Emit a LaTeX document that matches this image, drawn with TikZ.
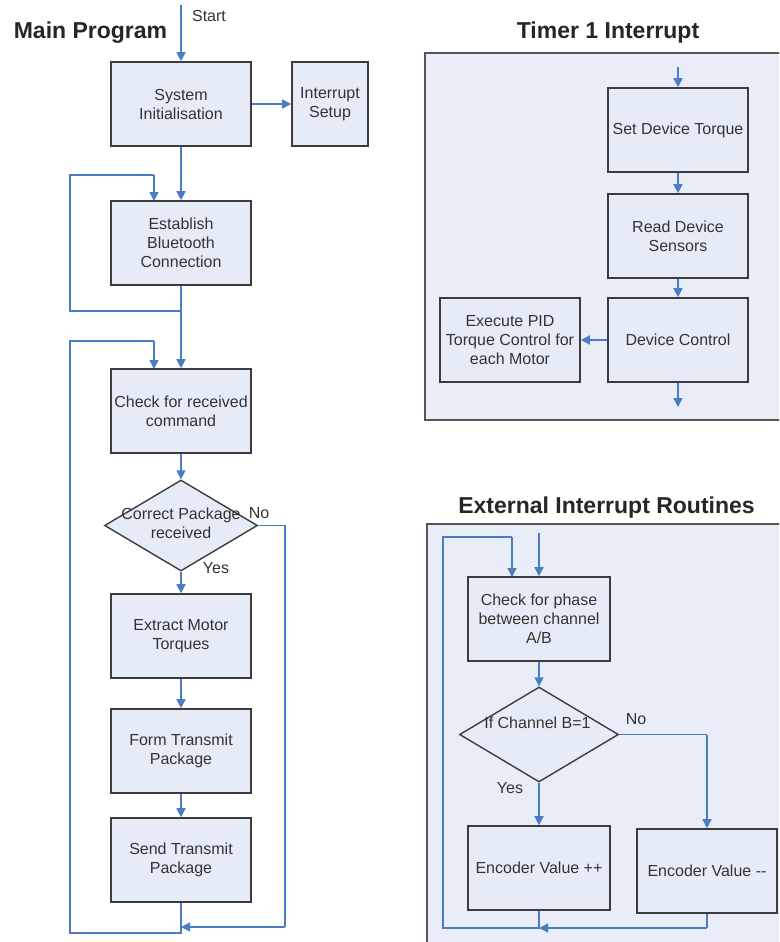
\documentclass[tikz,border=0pt]{standalone}
\usepackage{fontspec}
\setmainfont{Liberation Sans}
\usetikzlibrary{arrows.meta,shapes.geometric}
\definecolor{boxfill}{HTML}{E6ECF7}
\definecolor{boxline}{HTML}{3C3C3C}
\definecolor{flow}{HTML}{4A7DC4}
\definecolor{txtc}{HTML}{333333}
\definecolor{framefill}{HTML}{E8EDF7}
\definecolor{frameline}{HTML}{555555}
\newcommand{\bodyfont}{\fontsize{16}{19}\selectfont}
\newcommand{\titlefont}{\bfseries\fontsize{23}{27}\selectfont}
\begin{document}
\begin{tikzpicture}[x=1pt,y=-1pt,
  proc/.style={draw=boxline, line width=1.6pt, fill=boxfill, minimum width=140pt,
    minimum height=84pt, align=center, text=txtc, font=\bodyfont, inner sep=0pt},
  decis/.style={diamond, draw=boxline, line width=1.4pt, fill=boxfill, inner sep=0pt},
  lbl/.style={text=txtc, font=\bodyfont, align=center, inner sep=0pt},
  ttl/.style={text=black!85, font=\titlefont, inner sep=0pt},
  frm/.style={draw=frameline, line width=1.6pt, fill=framefill},
  flowline/.style={draw=flow, line width=1.5pt},
  arr/.style={flowline, -{Triangle[length=9pt,width=9pt]}}]
\clip (0,0) rectangle (779,942);
\fill[white] (0,0) rectangle (779,942);

% frames
\draw[frm] (425,53) rectangle (800,420);
\draw[frm] (427,524) rectangle (800,960);

% titles
\node[ttl] (t1) at (90.5,33) {Main Program};
\node[ttl] (t2) at (608,33) {Timer 1 Interrupt};
\node[ttl] (t3) at (606.5,508) {External Interrupt Routines};

% ---------- Main program ----------
\coordinate (start) at (181,5);
\node[proc] (sys) at (181,104) {System\\Initialisation};
\node[proc, minimum width=76pt] (ints) at (330,104) {Interrupt\\Setup};
\node[proc] (bt) at (181,243) {Establish\\Bluetooth\\Connection};
\node[proc] (chk) at (181,411) {Check for received\\command};
\node[decis, minimum width=153pt, minimum height=91pt] (dec) at (181,525.5) {};
\node[lbl] (dect) at (181,523.5) {Correct Package\\received};
\node[proc, minimum height=84pt] (ext) at (181,636) {Extract Motor\\Torques};
\node[proc] (form) at (181,751) {Form Transmit\\Package};
\node[proc] (send) at (181,860) {Send Transmit\\Package};

\node[lbl] (startl) at (209,16) {Start};
\node[lbl] (nol) at (259,513) {No};
\node[lbl] (yesl) at (216,568) {Yes};

\coordinate (l1a) at (181,311);
\coordinate (l1b) at (70,311);
\coordinate (l1c) at (70,175);
\coordinate (l1d) at (154,175);
\coordinate (l1e) at (154,201);
\coordinate (l2a) at (181,933);
\coordinate (l2b) at (70,933);
\coordinate (l2c) at (70,341);
\coordinate (l2d) at (154,341);
\coordinate (l2e) at (154,369);
\coordinate (nob) at (285,525.5);
\coordinate (noc) at (285,927);
\coordinate (nod) at (181,927);

\draw[arr] (start) -- (sys.north);
\draw[arr] (sys.east) -- (ints.west);
\draw[arr] (sys.south) -- (bt.north);
\draw[flowline] (bt.south) -- (l1a) -- (l1b) -- (l1c) -- (l1d);
\draw[arr] (l1d) -- (l1e);
\draw[arr] (bt.south) -- (chk.north);
\draw[arr] (chk.south) -- (dec.north);
\draw[arr] (dec.south) -- (ext.north);
\draw[arr] (ext.south) -- (form.north);
\draw[arr] (form.south) -- (send.north);
\draw[flowline] (send.south) -- (l2a) -- (l2b) -- (l2c) -- (l2d);
\draw[arr] (l2d) -- (l2e);
\draw[flowline] (dec.east) -- (nob) -- (noc);
\draw[arr] (noc) -- (nod);

% ---------- Timer 1 interrupt ----------
\coordinate (tin) at (678,67);
\node[proc, minimum height=84pt] (set) at (678,130) {Set Device Torque};
\node[proc, minimum height=84pt] (read) at (678,236) {Read Device\\Sensors};
\node[proc] (dc) at (678,340) {Device Control};
\node[proc] (pid) at (510,340) {Execute PID\\Torque Control for\\each Motor};
\coordinate (tout) at (678,407);

\draw[arr] (tin) -- (set.north);
\draw[arr] (set.south) -- (read.north);
\draw[arr] (read.south) -- (dc.north);
\draw[arr] (dc.west) -- (pid.east);
\draw[arr] (dc.south) -- (tout);

% ---------- External interrupt ----------
\coordinate (ein) at (539,533);
\node[proc, minimum width=142pt, minimum height=84pt] (ph) at (539,619) {Check for phase\\between channel\\A/B};
\node[decis, minimum width=159pt, minimum height=95pt] (dec2) at (539,734.5) {};
\node[lbl] (dec2t) at (537.5,723) {If Channel B=1};
\node[proc, minimum width=142pt] (encp) at (539,868) {Encoder Value ++};
\node[proc] (encm) at (707,871) {Encoder Value -{}-};

\node[lbl] (no2) at (636,719) {No};
\node[lbl] (yes2) at (510,788) {Yes};

\coordinate (n2a) at (707,734.5);
\coordinate (b1) at (539,928);
\coordinate (b2) at (707,928);
\coordinate (e1) at (443,928);
\coordinate (e2) at (443,537);
\coordinate (e3) at (512,537);
\coordinate (e4) at (512,577);

\draw[arr] (ein) -- (ph.north);
\draw[arr] (ph.south) -- (dec2.north);
\draw[arr] (dec2.south) -- (encp.north);
\draw[flowline] (dec2.east) -- (n2a);
\draw[arr] (n2a) -- (encm.north);
\draw[flowline] (encm.south) -- (b2);
\draw[arr] (b2) -- (b1);
\draw[flowline] (encp.south) -- (b1) -- (e1) -- (e2) -- (e3);
\draw[arr] (e3) -- (e4);
\end{tikzpicture}
\end{document}
